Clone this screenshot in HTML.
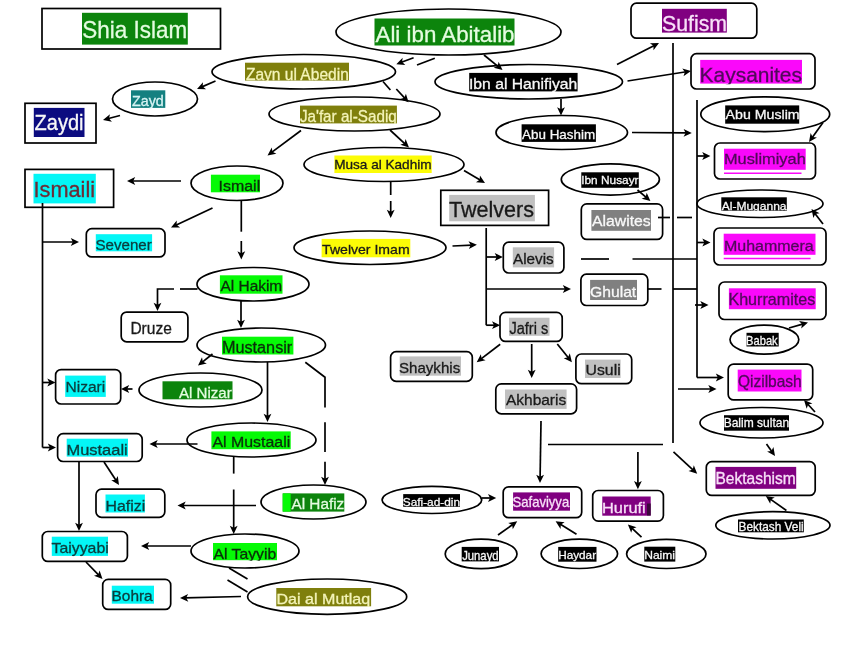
<!DOCTYPE html><html><head><meta charset="utf-8"><style>html,body{margin:0;padding:0;background:#fff;overflow:hidden;}svg{display:block;will-change:transform;}text{font-family:"Liberation Sans",sans-serif;}</style></head><body>
<svg width="852" height="658" viewBox="0 0 852 658">
<rect x="0" y="0" width="852" height="658" fill="#fff"/>
<g fill="#fff" stroke="#000" stroke-width="1.7"><rect x="42" y="8.5" width="178.5" height="40.5"/><rect x="25" y="103.3" width="71" height="39.7"/><rect x="25" y="169.4" width="88.6" height="37.9"/><rect x="440.8" y="190.3" width="107.8" height="35.1"/><rect x="631" y="3.2" width="125.8" height="35" rx="5.5"/><rect x="691" y="53.7" width="124" height="35.3" rx="5.5"/><rect x="714.5" y="143" width="101" height="36" rx="5.5"/><rect x="714" y="228" width="112" height="37" rx="5.5"/><rect x="719" y="282" width="107" height="37.5" rx="5.5"/><rect x="728.2" y="364.1" width="84.5" height="35.8" rx="5.5"/><rect x="706.3" y="461.7" width="108.9" height="33.7" rx="5.5"/><rect x="581.3" y="203.9" width="81.3" height="35.5" rx="5.5"/><rect x="580.9" y="274.2" width="66.9" height="31.3" rx="5.5"/><rect x="503.3" y="242.2" width="60.6" height="30.8" rx="5.5"/><rect x="500" y="312.4" width="62.2" height="29" rx="5.5"/><rect x="390.6" y="351.7" width="81.7" height="29.6" rx="5.5"/><rect x="575.9" y="354" width="55.8" height="29.7" rx="5.5"/><rect x="495.8" y="383.9" width="80.8" height="29.9" rx="5.5"/><rect x="503.2" y="486.8" width="78.5" height="30.9" rx="5.5"/><rect x="592.7" y="490.5" width="70.7" height="30.6" rx="5.5"/><rect x="86.3" y="228.7" width="78.7" height="28.2" rx="5.5"/><rect x="121.2" y="312.1" width="66.7" height="29.7" rx="5.5"/><rect x="55.6" y="369.6" width="65.1" height="34.4" rx="5.5"/><rect x="57.6" y="433.7" width="84.6" height="27.8" rx="5.5"/><rect x="96" y="489.2" width="68.8" height="28.1" rx="5.5"/><rect x="42.3" y="531.5" width="85.1" height="29.9" rx="5.5"/><rect x="102.7" y="579.4" width="68" height="30" rx="5.5"/><ellipse cx="448.5" cy="32" rx="112.5" ry="23"/><ellipse cx="303.75" cy="71.75" rx="91.75" ry="17.25"/><ellipse cx="155" cy="99" rx="42.5" ry="17"/><ellipse cx="528.75" cy="81.75" rx="93.75" ry="17.25"/><ellipse cx="354.5" cy="114" rx="85.5" ry="17"/><ellipse cx="561.75" cy="132.5" rx="65.75" ry="17"/><ellipse cx="384" cy="164.5" rx="80" ry="17"/><ellipse cx="237" cy="183.25" rx="46" ry="17.25"/><ellipse cx="370" cy="247.75" rx="76" ry="16.75"/><ellipse cx="610.35" cy="179.5" rx="49.05" ry="15.6"/><ellipse cx="765.25" cy="114.2" rx="64.45" ry="17.4"/><ellipse cx="760" cy="203.75" rx="63" ry="13.75"/><ellipse cx="253" cy="284.25" rx="56" ry="16.75"/><ellipse cx="261.25" cy="345" rx="64.25" ry="17"/><ellipse cx="200.5" cy="390" rx="61.5" ry="17"/><ellipse cx="251.5" cy="440" rx="64.5" ry="17"/><ellipse cx="313.5" cy="502" rx="52.5" ry="17"/><ellipse cx="245" cy="551" rx="54" ry="17"/><ellipse cx="327.15" cy="596.65" rx="79.55" ry="17.65"/><ellipse cx="764.4" cy="339.6" rx="34.4" ry="14.5"/><ellipse cx="761.5" cy="422.75" rx="61.5" ry="15.25"/><ellipse cx="772.9" cy="525.35" rx="57.1" ry="13.65"/><ellipse cx="431.9" cy="499.9" rx="49.8" ry="13.6"/><ellipse cx="481.1" cy="553.95" rx="35.9" ry="14.75"/><ellipse cx="579.35" cy="553.85" rx="38.25" ry="14.65"/><ellipse cx="666.3" cy="553.95" rx="39.7" ry="14.55"/></g>
<rect x="82" y="12.8" width="105.8" height="31.8" fill="#0c840c"/><rect x="374.5" y="18.5" width="140" height="27" fill="#0c840c"/><rect x="245" y="62.7" width="104" height="17.9" fill="#7f7f0c"/><rect x="131" y="90.3" width="34.3" height="17.6" fill="#148080"/><rect x="33.8" y="107.9" width="50.7" height="29.1" fill="#0c0c80"/><rect x="469.2" y="72.9" width="108.4" height="18.5" fill="#000"/><rect x="300" y="105.6" width="96.9" height="17.8" fill="#7f7f0c"/><rect x="521.6" y="124.3" width="74.3" height="17.6" fill="#000"/><rect x="662" y="8.8" width="64.8" height="23.8" fill="#800080"/><rect x="700.2" y="59.9" width="101.8" height="23.7" fill="#fa08fa"/><rect x="725.2" y="105.4" width="74" height="18.3" fill="#000"/><rect x="334.4" y="155.5" width="97.3" height="17.5" fill="#fcfc06"/><rect x="33.5" y="173.8" width="62.3" height="29.6" fill="#04f6f6"/><rect x="210.9" y="174.7" width="49.1" height="17.6" fill="#06fa06"/><rect x="724" y="148.7" width="81.7" height="21.1" fill="#fa08fa"/><rect x="581.3" y="172.3" width="57.5" height="15.5" fill="#000"/><rect x="449.2" y="194.9" width="85.7" height="26.4" fill="#c0c0c0"/><rect x="721.3" y="197.3" width="65.5" height="13.4" fill="#000"/><rect x="591.4" y="210" width="59.6" height="20.8" fill="#808080"/><rect x="95.8" y="234.2" width="56.3" height="17.1" fill="#04f6f6"/><rect x="723.7" y="233.7" width="91.8" height="21.1" fill="#fa08fa"/><rect x="321.6" y="238.9" width="88.7" height="18.4" fill="#fcfc06"/><rect x="512.8" y="247.3" width="41.3" height="20.1" fill="#c0c0c0"/><rect x="219.9" y="275.3" width="62.6" height="18.4" fill="#06fa06"/><rect x="590.1" y="279.9" width="46.9" height="20.1" fill="#808080"/><rect x="728.9" y="288.3" width="86.8" height="20.9" fill="#fa08fa"/><rect x="509" y="317.7" width="40.5" height="18.1" fill="#c0c0c0"/><rect x="746.5" y="332.8" width="32.2" height="13.7" fill="#000"/><rect x="222" y="336.7" width="71.4" height="17.8" fill="#06fa06"/><rect x="399.7" y="356.4" width="61.3" height="19.3" fill="#c0c0c0"/><rect x="585" y="359.6" width="35.6" height="18.4" fill="#c0c0c0"/><rect x="65.2" y="375.6" width="40.6" height="21.3" fill="#04f6f6"/><rect x="162.5" y="381.3" width="70" height="18" fill="#0c840c"/><rect x="737.7" y="369.6" width="63.8" height="21.9" fill="#fa08fa"/><rect x="505" y="389.5" width="61.6" height="19.4" fill="#c0c0c0"/><rect x="724" y="415.2" width="65" height="15.5" fill="#000"/><rect x="66.7" y="438.7" width="61.3" height="17.9" fill="#04f6f6"/><rect x="211.4" y="431.4" width="79.3" height="17.8" fill="#06fa06"/><rect x="715.5" y="466.9" width="80.7" height="21.9" fill="#800080"/><rect x="403.2" y="494.1" width="56.8" height="12.7" fill="#000"/><rect x="513.1" y="492.4" width="56.9" height="18.3" fill="#800080"/><rect x="602.3" y="496.5" width="48.4" height="19.2" fill="#800080"/><rect x="282.7" y="493.4" width="61.6" height="18.2" fill="#0c840c"/><rect x="105.5" y="494.5" width="39.4" height="18" fill="#04f6f6"/><rect x="738" y="519.5" width="65.8" height="12.8" fill="#000"/><rect x="51.8" y="536.7" width="56.2" height="19.2" fill="#04f6f6"/><rect x="213" y="543" width="64" height="17.2" fill="#06fa06"/><rect x="461.7" y="546.9" width="37.3" height="14.5" fill="#000"/><rect x="558.2" y="546.9" width="38.3" height="14.8" fill="#000"/><rect x="644.3" y="546.7" width="31" height="14.9" fill="#000"/><rect x="111.8" y="585.7" width="42.2" height="18" fill="#04f6f6"/><rect x="276.3" y="588" width="94.8" height="18.3" fill="#7f7f0c"/><rect x="282.7" y="493.4" width="8" height="18.2" fill="#06fa06"/><rect x="647" y="503.5" width="3.7" height="12" fill="#3a0a3a"/>
<defs><clipPath id="c0"><rect x="78" y="8.8" width="113.8" height="36.4"/></clipPath><clipPath id="c1"><rect x="370.5" y="14.5" width="148" height="31.6"/></clipPath><clipPath id="c2"><rect x="241" y="58.7" width="112" height="22.5"/></clipPath><clipPath id="c3"><rect x="127" y="86.3" width="42.3" height="22.2"/></clipPath><clipPath id="c4"><rect x="29.8" y="103.9" width="58.7" height="33.7"/></clipPath><clipPath id="c5"><rect x="465.2" y="68.9" width="116.4" height="23.1"/></clipPath><clipPath id="c6"><rect x="296" y="101.6" width="104.9" height="22.4"/></clipPath><clipPath id="c7"><rect x="517.6" y="120.3" width="82.3" height="22.2"/></clipPath><clipPath id="c8"><rect x="658" y="4.8" width="72.8" height="28.4"/></clipPath><clipPath id="c9"><rect x="696.2" y="55.9" width="109.8" height="28.3"/></clipPath><clipPath id="c10"><rect x="721.2" y="101.4" width="82" height="22.9"/></clipPath><clipPath id="c11"><rect x="330.4" y="151.5" width="105.3" height="22.1"/></clipPath><clipPath id="c12"><rect x="29.5" y="169.8" width="70.3" height="34.2"/></clipPath><clipPath id="c13"><rect x="206.9" y="170.7" width="57.1" height="22.2"/></clipPath><clipPath id="c14"><rect x="720" y="144.7" width="89.7" height="25.7"/></clipPath><clipPath id="c15"><rect x="577.3" y="168.3" width="65.5" height="20.1"/></clipPath><clipPath id="c16"><rect x="445.2" y="190.9" width="93.7" height="31"/></clipPath><clipPath id="c17"><rect x="717.3" y="193.3" width="73.5" height="18"/></clipPath><clipPath id="c18"><rect x="587.4" y="206" width="67.6" height="25.4"/></clipPath><clipPath id="c19"><rect x="91.8" y="230.2" width="64.3" height="21.7"/></clipPath><clipPath id="c20"><rect x="719.7" y="229.7" width="99.8" height="25.7"/></clipPath><clipPath id="c21"><rect x="317.6" y="234.9" width="96.7" height="23"/></clipPath><clipPath id="c22"><rect x="508.8" y="243.3" width="49.3" height="24.7"/></clipPath><clipPath id="c23"><rect x="215.9" y="271.3" width="70.6" height="23"/></clipPath><clipPath id="c24"><rect x="586.1" y="275.9" width="54.9" height="24.7"/></clipPath><clipPath id="c25"><rect x="724.9" y="284.3" width="94.8" height="25.5"/></clipPath><clipPath id="c27"><rect x="505" y="313.7" width="48.5" height="22.7"/></clipPath><clipPath id="c28"><rect x="742.5" y="328.8" width="40.2" height="18.3"/></clipPath><clipPath id="c29"><rect x="218" y="332.7" width="79.4" height="22.4"/></clipPath><clipPath id="c30"><rect x="395.7" y="352.4" width="69.3" height="23.9"/></clipPath><clipPath id="c31"><rect x="581" y="355.6" width="43.6" height="23"/></clipPath><clipPath id="c32"><rect x="61.2" y="371.6" width="48.6" height="25.9"/></clipPath><clipPath id="c33"><rect x="158.5" y="377.3" width="78" height="22.6"/></clipPath><clipPath id="c34"><rect x="733.7" y="365.6" width="71.8" height="26.5"/></clipPath><clipPath id="c35"><rect x="501" y="385.5" width="69.6" height="24"/></clipPath><clipPath id="c36"><rect x="720" y="411.2" width="73" height="20.1"/></clipPath><clipPath id="c37"><rect x="62.7" y="434.7" width="69.3" height="22.5"/></clipPath><clipPath id="c38"><rect x="207.4" y="427.4" width="87.3" height="22.4"/></clipPath><clipPath id="c39"><rect x="711.5" y="462.9" width="88.7" height="26.5"/></clipPath><clipPath id="c40"><rect x="399.2" y="490.1" width="64.8" height="17.3"/></clipPath><clipPath id="c41"><rect x="509.1" y="488.4" width="64.9" height="22.9"/></clipPath><clipPath id="c42"><rect x="598.3" y="492.5" width="56.4" height="23.8"/></clipPath><clipPath id="c43"><rect x="278.7" y="489.4" width="69.6" height="22.8"/></clipPath><clipPath id="c44"><rect x="101.5" y="490.5" width="47.4" height="22.6"/></clipPath><clipPath id="c45"><rect x="734" y="515.5" width="73.8" height="17.4"/></clipPath><clipPath id="c46"><rect x="47.8" y="532.7" width="64.2" height="23.8"/></clipPath><clipPath id="c47"><rect x="209" y="539" width="72" height="21.8"/></clipPath><clipPath id="c48"><rect x="457.7" y="542.9" width="45.3" height="19.1"/></clipPath><clipPath id="c49"><rect x="554.2" y="542.9" width="46.3" height="19.4"/></clipPath><clipPath id="c50"><rect x="640.3" y="542.7" width="39" height="19.5"/></clipPath><clipPath id="c51"><rect x="107.8" y="581.7" width="50.2" height="22.6"/></clipPath><clipPath id="c52"><rect x="272.3" y="584" width="102.8" height="22.9"/></clipPath></defs>
<text x="82.36" y="37.8" font-size="24" fill="#e4fce0" stroke="#e4fce0" stroke-width="0.3" textLength="104.82" lengthAdjust="spacingAndGlyphs" clip-path="url(#c0)">Shia Islam</text><text x="375.53" y="42" font-size="21.43" fill="#e4fce0" stroke="#e4fce0" stroke-width="0.3" textLength="139.01" lengthAdjust="spacingAndGlyphs" clip-path="url(#c1)">Ali ibn Abitalib</text><text x="245.88" y="80" font-size="16.43" fill="#f4f4b8" stroke="#f4f4b8" stroke-width="0.3" textLength="102.93" lengthAdjust="spacingAndGlyphs" clip-path="url(#c2)">Zayn ul Abedin</text><text x="132" y="106.1" font-size="14.57" fill="#d8f4f4" stroke="#d8f4f4" stroke-width="0.3" textLength="31.71" lengthAdjust="spacingAndGlyphs" clip-path="url(#c3)">Zayd</text><text x="34.54" y="129.9" font-size="21.29" fill="#f8f8f8" stroke="#f8f8f8" stroke-width="0.3" textLength="49" lengthAdjust="spacingAndGlyphs" clip-path="url(#c4)">Zaydi</text><text x="468.98" y="89.1" font-size="14.86" fill="#f8f8f8" stroke="#f8f8f8" stroke-width="0.3" textLength="108.24" lengthAdjust="spacingAndGlyphs" clip-path="url(#c5)">Ibn al Hanifiyah</text><text x="299.88" y="122.4" font-size="16.43" fill="#f4f4b8" stroke="#f4f4b8" stroke-width="0.3" textLength="96.93" lengthAdjust="spacingAndGlyphs" clip-path="url(#c6)">Ja&#39;far al-Sadiq</text><text x="522.09" y="138.6" font-size="13.29" fill="#f8f8f8" stroke="#f8f8f8" stroke-width="0.3" textLength="73.06" lengthAdjust="spacingAndGlyphs" clip-path="url(#c7)">Abu Hashim</text><text x="662.02" y="31.3" font-size="21.57" fill="#f8e0f8" stroke="#f8e0f8" stroke-width="0.3" textLength="65.03" lengthAdjust="spacingAndGlyphs" clip-path="url(#c8)">Sufism</text><text x="699.62" y="81.9" font-size="20.14" fill="#500a5a" stroke="#500a5a" stroke-width="0.3" textLength="102.36" lengthAdjust="spacingAndGlyphs" clip-path="url(#c9)">Kaysanites</text><text x="725.61" y="119.4" font-size="13" fill="#f8f8f8" stroke="#f8f8f8" stroke-width="0.3" textLength="74.03" lengthAdjust="spacingAndGlyphs" clip-path="url(#c10)">Abu Muslim</text><text x="334.17" y="169.2" font-size="12.14" fill="#1a1a1a" stroke="#1a1a1a" stroke-width="0.3" textLength="97.42" lengthAdjust="spacingAndGlyphs" clip-path="url(#c11)">Musa al Kadhim</text><text x="33.52" y="197.2" font-size="21.57" fill="#6e2c36" stroke="#6e2c36" stroke-width="0.3" textLength="61.53" lengthAdjust="spacingAndGlyphs" clip-path="url(#c12)">Ismaili</text><text x="218.51" y="191.1" font-size="14.43" fill="#0a2e0a" stroke="#0a2e0a" stroke-width="0.3" textLength="41.69" lengthAdjust="spacingAndGlyphs" clip-path="url(#c13)">Ismail</text><text x="723.95" y="164.4" font-size="15.29" fill="#500a5a" stroke="#500a5a" stroke-width="0.3" textLength="81.79" lengthAdjust="spacingAndGlyphs" clip-path="url(#c14)">Muslimiyah</text><text x="581.22" y="184.1" font-size="11.43" fill="#f8f8f8" stroke="#f8f8f8" stroke-width="0.3" textLength="57.34" lengthAdjust="spacingAndGlyphs" clip-path="url(#c15)">Ibn Nusayr</text><text x="449.04" y="217" font-size="21.29" fill="#1a1a1a" stroke="#1a1a1a" stroke-width="0.3" textLength="85" lengthAdjust="spacingAndGlyphs" clip-path="url(#c16)">Twelvers</text><text x="721.7" y="209.6" font-size="11.71" fill="#f8f8f8" stroke="#f8f8f8" stroke-width="0.3" textLength="64.87" lengthAdjust="spacingAndGlyphs" clip-path="url(#c17)">Al-Muganna</text><text x="591.95" y="225.6" font-size="15.29" fill="#f8f8f8" stroke="#f8f8f8" stroke-width="0.3" textLength="58.79" lengthAdjust="spacingAndGlyphs" clip-path="url(#c18)">Alawites</text><text x="95.47" y="249.5" font-size="15" fill="#0c3c3c" stroke="#0c3c3c" stroke-width="0.3" textLength="56.26" lengthAdjust="spacingAndGlyphs" clip-path="url(#c19)">Sevener</text><text x="723.99" y="250.7" font-size="14.71" fill="#500a5a" stroke="#500a5a" stroke-width="0.3" textLength="89.73" lengthAdjust="spacingAndGlyphs" clip-path="url(#c20)">Muhammera</text><text x="322.1" y="253.7" font-size="13.14" fill="#1a1a1a" stroke="#1a1a1a" stroke-width="0.3" textLength="87.54" lengthAdjust="spacingAndGlyphs" clip-path="url(#c21)">Twelver Imam</text><text x="513.03" y="263.6" font-size="14.14" fill="#1a1a1a" stroke="#1a1a1a" stroke-width="0.3" textLength="40.66" lengthAdjust="spacingAndGlyphs" clip-path="url(#c22)">Alevis</text><text x="220.49" y="291.3" font-size="14.71" fill="#0a2e0a" stroke="#0a2e0a" stroke-width="0.3" textLength="61.73" lengthAdjust="spacingAndGlyphs" clip-path="url(#c23)">Al Hakim</text><text x="589.97" y="296.5" font-size="15" fill="#f8f8f8" stroke="#f8f8f8" stroke-width="0.3" textLength="46.26" lengthAdjust="spacingAndGlyphs" clip-path="url(#c24)">Ghulat</text><text x="728.4" y="305.1" font-size="16.14" fill="#500a5a" stroke="#500a5a" stroke-width="0.3" textLength="86.89" lengthAdjust="spacingAndGlyphs" clip-path="url(#c25)">Khurramites</text><text x="130.41" y="334" font-size="16" fill="#1a1a1a" stroke="#1a1a1a" stroke-width="0.3" textLength="41.38" lengthAdjust="spacingAndGlyphs">Druze</text><text x="509.43" y="333.5" font-size="15.57" fill="#1a1a1a" stroke="#1a1a1a" stroke-width="0.3" textLength="38.83" lengthAdjust="spacingAndGlyphs" clip-path="url(#c27)">Jafri s</text><text x="746.12" y="345" font-size="12.86" fill="#f8f8f8" stroke="#f8f8f8" stroke-width="0.3" textLength="31.51" lengthAdjust="spacingAndGlyphs" clip-path="url(#c28)">Babak</text><text x="221.91" y="353" font-size="16" fill="#0a2e0a" stroke="#0a2e0a" stroke-width="0.3" textLength="70.38" lengthAdjust="spacingAndGlyphs" clip-path="url(#c29)">Mustansir</text><text x="398.99" y="372.5" font-size="14.71" fill="#1a1a1a" stroke="#1a1a1a" stroke-width="0.3" textLength="61.23" lengthAdjust="spacingAndGlyphs" clip-path="url(#c30)">Shaykhis</text><text x="585.55" y="375.4" font-size="13.86" fill="#1a1a1a" stroke="#1a1a1a" stroke-width="0.3" textLength="35.13" lengthAdjust="spacingAndGlyphs" clip-path="url(#c31)">Usuli</text><text x="65.46" y="391.6" font-size="15.14" fill="#0c3c3c" stroke="#0c3c3c" stroke-width="0.3" textLength="39.78" lengthAdjust="spacingAndGlyphs" clip-path="url(#c32)">Nizari</text><text x="178.96" y="397.6" font-size="15.14" fill="#e4fce0" stroke="#e4fce0" stroke-width="0.3" textLength="52.78" lengthAdjust="spacingAndGlyphs" clip-path="url(#c33)">Al Nizar</text><text x="737.92" y="386.6" font-size="15.71" fill="#500a5a" stroke="#500a5a" stroke-width="0.3" textLength="63.84" lengthAdjust="spacingAndGlyphs" clip-path="url(#c34)">Qizilbash</text><text x="505.96" y="405.4" font-size="15.14" fill="#1a1a1a" stroke="#1a1a1a" stroke-width="0.3" textLength="60.28" lengthAdjust="spacingAndGlyphs" clip-path="url(#c35)">Akhbaris</text><text x="723.64" y="427.3" font-size="12.57" fill="#f8f8f8" stroke="#f8f8f8" stroke-width="0.3" textLength="65.47" lengthAdjust="spacingAndGlyphs" clip-path="url(#c36)">Balim sultan</text><text x="66.48" y="454.7" font-size="14.86" fill="#0c3c3c" stroke="#0c3c3c" stroke-width="0.3" textLength="61.24" lengthAdjust="spacingAndGlyphs" clip-path="url(#c37)">Mustaali</text><text x="212.44" y="447.4" font-size="15.43" fill="#0a2e0a" stroke="#0a2e0a" stroke-width="0.3" textLength="77.81" lengthAdjust="spacingAndGlyphs" clip-path="url(#c38)">Al Mustaali</text><text x="715.41" y="483.5" font-size="15.86" fill="#f8e0f8" stroke="#f8e0f8" stroke-width="0.3" textLength="80.36" lengthAdjust="spacingAndGlyphs" clip-path="url(#c39)">Bektashism</text><text x="402.72" y="506" font-size="11.43" fill="#f8f8f8" stroke="#f8f8f8" stroke-width="0.3" textLength="57.34" lengthAdjust="spacingAndGlyphs" clip-path="url(#c40)">Safi-ad-din</text><text x="512.53" y="506.8" font-size="14.14" fill="#f8e0f8" stroke="#f8e0f8" stroke-width="0.3" textLength="56.66" lengthAdjust="spacingAndGlyphs" clip-path="url(#c41)">Safaviyya</text><text x="601.96" y="512.6" font-size="15.14" fill="#f8e0f8" stroke="#f8e0f8" stroke-width="0.3" textLength="43.78" lengthAdjust="spacingAndGlyphs" clip-path="url(#c42)">Hurufi</text><text x="291.45" y="509.3" font-size="15.29" fill="#e4fce0" stroke="#e4fce0" stroke-width="0.3" textLength="52.79" lengthAdjust="spacingAndGlyphs" clip-path="url(#c43)">Al Hafiz</text><text x="105.51" y="511.2" font-size="14.43" fill="#0c3c3c" stroke="#0c3c3c" stroke-width="0.3" textLength="39.69" lengthAdjust="spacingAndGlyphs" clip-path="url(#c44)">Hafizi</text><text x="738.61" y="531.4" font-size="13" fill="#f8f8f8" stroke="#f8f8f8" stroke-width="0.3" textLength="65.03" lengthAdjust="spacingAndGlyphs" clip-path="url(#c45)">Bektash Veli</text><text x="51.47" y="553.4" font-size="15" fill="#0c3c3c" stroke="#0c3c3c" stroke-width="0.3" textLength="57.26" lengthAdjust="spacingAndGlyphs" clip-path="url(#c46)">Taiyyabi</text><text x="213.49" y="558.6" font-size="14.71" fill="#0a2e0a" stroke="#0a2e0a" stroke-width="0.3" textLength="62.73" lengthAdjust="spacingAndGlyphs" clip-path="url(#c47)">Al Tayyib</text><text x="462.17" y="559.6" font-size="12.14" fill="#f8f8f8" stroke="#f8f8f8" stroke-width="0.3" textLength="36.42" lengthAdjust="spacingAndGlyphs" clip-path="url(#c48)">Junayd</text><text x="558.21" y="559.2" font-size="11.57" fill="#f8f8f8" stroke="#f8f8f8" stroke-width="0.3" textLength="37.86" lengthAdjust="spacingAndGlyphs" clip-path="url(#c49)">Haydar</text><text x="644.2" y="559.4" font-size="11.71" fill="#f8f8f8" stroke="#f8f8f8" stroke-width="0.3" textLength="30.87" lengthAdjust="spacingAndGlyphs" clip-path="url(#c50)">Naimi</text><text x="111.53" y="601.3" font-size="14.14" fill="#0c3c3c" stroke="#0c3c3c" stroke-width="0.3" textLength="41.16" lengthAdjust="spacingAndGlyphs" clip-path="url(#c51)">Bohra</text><text x="276.49" y="604.3" font-size="14.71" fill="#f4f4b8" stroke="#f4f4b8" stroke-width="0.3" textLength="93.73" lengthAdjust="spacingAndGlyphs" clip-path="url(#c52)">Dai al Mutlaq</text>
<line x1="724" y1="173.3" x2="801.5" y2="173.3" stroke="#fa08fa" stroke-width="1.5"/><line x1="723.7" y1="258.5" x2="810.6" y2="258.5" stroke="#fa08fa" stroke-width="1.5"/>
<g fill="none" stroke="#000" stroke-width="1.7"><line x1="215.5" y1="81" x2="201.31" y2="87.13"/><line x1="120" y1="115.5" x2="107.54" y2="118.8"/><line x1="484" y1="55" x2="498.85" y2="67.04"/><line x1="561" y1="99" x2="561" y2="110.8"/><line x1="617" y1="64.5" x2="654.82" y2="45.14"/><line x1="627.5" y1="81" x2="686.36" y2="71.73"/><line x1="632" y1="132.5" x2="687.1" y2="132.96"/><line x1="697" y1="156" x2="705.7" y2="156"/><line x1="823" y1="122.5" x2="811.74" y2="138.18"/><line x1="301" y1="130.5" x2="271.27" y2="152.69"/><line x1="390" y1="130" x2="405.54" y2="144.32"/><line x1="464" y1="170.5" x2="480.96" y2="180.6"/><line x1="181" y1="181" x2="131.7" y2="181"/><line x1="212.5" y1="208" x2="175.25" y2="225.5"/><line x1="42.5" y1="242" x2="74.3" y2="242"/><line x1="452.5" y1="246" x2="472.21" y2="245.03"/><line x1="486.2" y1="257" x2="498.2" y2="257"/><line x1="486.2" y1="289" x2="566.3" y2="289"/><line x1="486.2" y1="325.2" x2="495.5" y2="325.2"/><line x1="637.5" y1="190" x2="646.82" y2="197.95"/><line x1="697" y1="242.5" x2="705.8" y2="242.5"/><line x1="823" y1="224" x2="814.36" y2="212.73"/><line x1="695" y1="305" x2="703.8" y2="305"/><line x1="789" y1="328" x2="803.49" y2="323.81"/><line x1="697" y1="377.5" x2="719.3" y2="377.5"/><line x1="678" y1="389" x2="711.8" y2="389"/><line x1="815" y1="412" x2="807.18" y2="403.46"/><line x1="766.5" y1="444" x2="772.28" y2="452.16"/><line x1="673.5" y1="451.8" x2="693.75" y2="470.51"/><line x1="786.4" y1="510.5" x2="769.63" y2="498.62"/><line x1="637.9" y1="452" x2="637.9" y2="484.5"/><line x1="541" y1="421" x2="540.08" y2="478.3"/><line x1="500.2" y1="344.3" x2="480.44" y2="359.35"/><line x1="531.7" y1="344" x2="531.7" y2="373.3"/><line x1="557.3" y1="344" x2="568.96" y2="358.53"/><line x1="482" y1="498" x2="491.5" y2="498"/><line x1="498" y1="535" x2="513.37" y2="524.03"/><line x1="576.5" y1="534.2" x2="559.6" y2="523.77"/><line x1="641.5" y1="537.2" x2="631.32" y2="527.62"/><line x1="241" y1="301" x2="241" y2="323.3"/><line x1="212.5" y1="354" x2="201.68" y2="362.58"/><line x1="132.5" y1="389" x2="125.7" y2="389"/><line x1="42.5" y1="382.5" x2="50.8" y2="382.5"/><line x1="42.5" y1="447.5" x2="51.3" y2="447.5"/><line x1="267.5" y1="362" x2="267.5" y2="417.3"/><line x1="197.5" y1="444" x2="154.2" y2="444"/><line x1="104" y1="462" x2="116.43" y2="481.06"/><line x1="79" y1="462" x2="79" y2="526.3"/><line x1="256" y1="505.5" x2="182.2" y2="505.5"/><line x1="191" y1="546" x2="145.7" y2="546"/><line x1="86" y1="562" x2="99.23" y2="575.63"/><line x1="241" y1="596.5" x2="184.7" y2="597.88"/><polyline points="434.8,58.3 417,65"/><polyline points="413.6,57.8 400.71,62.57"/><polyline points="383,81.5 390.4,90"/><polyline points="396.3,89 405.41,98.85"/><polyline points="390.7,181.5 390.7,195"/><polyline points="390.7,201 390.7,213.3"/><polyline points="241.3,201 241.3,231.7"/><polyline points="241.3,241 241.3,254.7"/><polyline points="197.5,289 180,289"/><polyline points="174,289 157.5,289 157.5,306.3"/><polyline points="233.7,457 233.7,473.6"/><polyline points="233.7,489.5 233.7,529.3"/><polyline points="305.3,362.3 325,377.2 325,407.4"/><polyline points="325,422.3 325,452"/><polyline points="325,461.7 325,480.3"/><polyline points="673,43 673,443"/><polyline points="697,100 697,377.5"/><polyline points="42.5,203 42.5,447.5"/><polyline points="486.2,228 486.2,325.2"/><polyline points="658,217.5 670,217.5"/><polyline points="677,217.5 692,217.5"/><polyline points="581,259 609,259"/><polyline points="632.5,259 697,259"/><polyline points="647.8,289 661.5,289"/><polyline points="673,289 697,289"/><polyline points="548,444.5 663,444.5"/><polyline points="229,568 247.5,579"/><polyline points="227.5,580 247.5,592"/></g>
<g fill="#000" stroke="none"><polygon points="197,89 202.98,82.17 202.69,86.54 206.07,89.32"/><polygon points="103,120 109.93,114.13 108.99,118.41 111.92,121.67"/><polygon points="502.5,70 493.67,67.86 497.68,66.1 498.59,61.81"/><polygon points="561,115.5 557.1,107.3 561,109.3 564.9,107.3"/><polygon points="659,43 653.48,50.21 653.48,45.83 649.92,43.26"/><polygon points="691,71 683.51,76.13 684.88,71.96 682.29,68.42"/><polygon points="691.8,133 683.57,136.83 685.6,132.95 683.63,129.03"/><polygon points="710.4,156 702.2,159.9 704.2,156 702.2,152.1"/><polygon points="809,142 810.61,133.06 812.62,136.96 816.95,137.61"/><polygon points="267.5,155.5 271.74,147.47 272.47,151.79 276.4,153.72"/><polygon points="409,147.5 400.33,144.81 404.44,143.3 405.61,139.08"/><polygon points="485,183 475.96,182.16 479.67,179.83 479.95,175.45"/><polygon points="127,181 135.2,177.1 133.2,181 135.2,184.9"/><polygon points="171,227.5 176.76,220.48 176.61,224.86 180.08,227.54"/><polygon points="79,242 70.8,245.9 72.8,242 70.8,238.1"/><polygon points="476.9,244.8 468.9,249.1 470.71,245.1 468.52,241.31"/><polygon points="502.9,257 494.7,260.9 496.7,257 494.7,253.1"/><polygon points="571,289 562.8,292.9 564.8,289 562.8,285.1"/><polygon points="500.2,325.2 492,329.1 494,325.2 492,321.3"/><polygon points="650.4,201 641.63,198.65 645.68,196.98 646.69,192.71"/><polygon points="710.5,242.5 702.3,246.4 704.3,242.5 702.3,238.6"/><polygon points="811.5,209 819.58,213.13 815.27,213.92 813.39,217.88"/><polygon points="708.5,305 700.3,308.9 702.3,305 700.3,301.1"/><polygon points="808,322.5 801.21,328.53 802.04,324.22 799.04,321.03"/><polygon points="724,377.5 715.8,381.4 717.8,377.5 715.8,373.6"/><polygon points="716.5,389 708.3,392.9 710.3,389 708.3,385.1"/><polygon points="804,400 812.42,403.41 808.19,404.57 806.67,408.68"/><polygon points="775,456 767.08,451.56 771.42,450.94 773.44,447.05"/><polygon points="697.2,473.7 688.53,471 692.65,469.49 693.82,465.27"/><polygon points="765.8,495.9 774.75,497.46 770.86,499.49 770.23,503.82"/><polygon points="637.9,489.2 634,481 637.9,483 641.8,481"/><polygon points="540,483 536.23,474.74 540.1,476.8 544.03,474.86"/><polygon points="476.7,362.2 480.86,354.13 481.63,358.44 485.59,360.33"/><polygon points="531.7,378 527.8,369.8 531.7,371.8 535.6,369.8"/><polygon points="571.9,362.2 563.73,358.24 568.02,357.36 569.81,353.36"/><polygon points="496.2,498 488,501.9 490,498 488,494.1"/><polygon points="517.2,521.3 512.79,529.24 512.15,524.9 508.26,522.89"/><polygon points="555.6,521.3 564.63,522.29 560.88,524.56 560.53,528.93"/><polygon points="627.9,524.4 636.54,527.18 632.41,528.65 631.2,532.86"/><polygon points="241,328 237.1,319.8 241,321.8 244.9,319.8"/><polygon points="198,365.5 202,357.35 202.86,361.65 206.85,363.46"/><polygon points="121,389 129.2,385.1 127.2,389 129.2,392.9"/><polygon points="55.5,382.5 47.3,386.4 49.3,382.5 47.3,378.6"/><polygon points="56,447.5 47.8,451.4 49.8,447.5 47.8,443.6"/><polygon points="267.5,422 263.6,413.8 267.5,415.8 271.4,413.8"/><polygon points="149.5,444 157.7,440.1 155.7,444 157.7,447.9"/><polygon points="119,485 111.25,480.26 115.61,479.81 117.79,476"/><polygon points="79,531 75.1,522.8 79,524.8 82.9,522.8"/><polygon points="177.5,505.5 185.7,501.6 183.7,505.5 185.7,509.4"/><polygon points="141,546 149.2,542.1 147.2,546 149.2,549.9"/><polygon points="102.5,579 93.99,575.83 98.18,574.55 99.59,570.4"/><polygon points="180,598 188.1,593.9 186.2,597.85 188.29,601.7"/><polygon points="396.3,64.2 402.64,57.7 402.11,62.05 405.34,65.01"/><polygon points="408.6,102.3 400.17,98.93 404.39,97.75 405.9,93.63"/><polygon points="390.7,218 386.8,209.8 390.7,211.8 394.6,209.8"/><polygon points="241.3,259.4 237.4,251.2 241.3,253.2 245.2,251.2"/><polygon points="157.5,311 153.6,302.8 157.5,304.8 161.4,302.8"/><polygon points="233.7,534 229.8,525.8 233.7,527.8 237.6,525.8"/><polygon points="325,485 321.1,476.8 325,478.8 328.9,476.8"/></g>
</svg></body></html>
